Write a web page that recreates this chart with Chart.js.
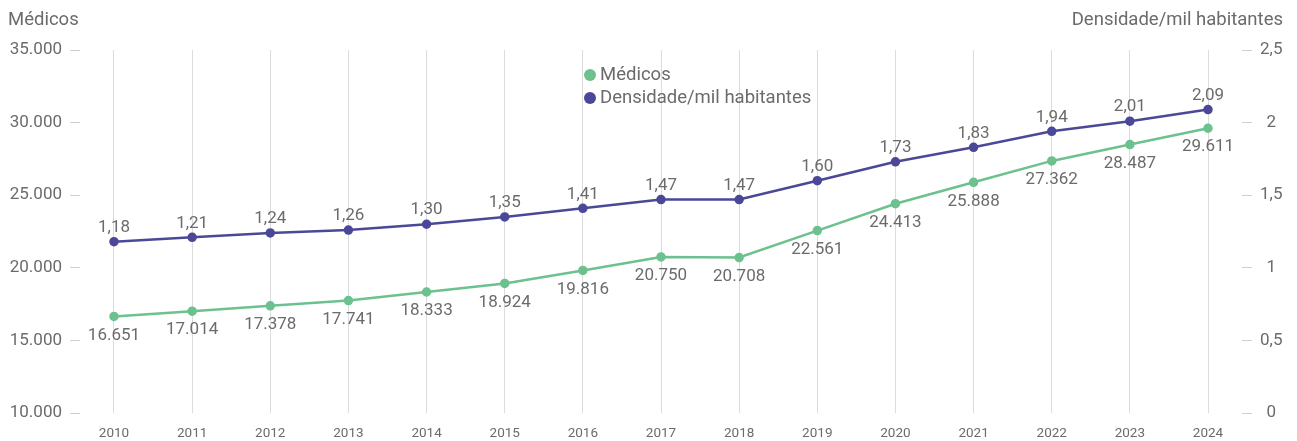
<!DOCTYPE html>
<html>
<head>
<meta charset="utf-8">
<script src="https://cdn.jsdelivr.net/npm/chart.js@4"></script>
<style>
  body { margin: 0; background: #fff; font-family: Roboto, sans-serif; }
  #wrap { position: relative; width: 1297px; height: 441px; }
  .axisTitle { position: absolute; top: 8px; font-size: 18.5px; color: #6b6b6b; }
  #legend { position: absolute; left: 584px; top: 63px; font-size: 18.5px; color: #6b6b6b; line-height: 23px; }
  #legend .dot { display: inline-block; width: 12px; height: 12px; border-radius: 50%; margin-right: 4px; vertical-align: -1px; }
</style>
</head>
<body>
<div id="wrap">
  <canvas id="chart" width="1297" height="441"></canvas>
  <div class="axisTitle" style="left:8px">Médicos</div>
  <div class="axisTitle" style="right:14px">Densidade/mil habitantes</div>
  <div id="legend">
    <div><span class="dot" style="background:#6cc18e"></span>Médicos</div>
    <div><span class="dot" style="background:#4b4898"></span>Densidade/mil habitantes</div>
  </div>
</div>
<script>
// Dados
const anos = [2010, 2011, 2012, 2013, 2014, 2015, 2016, 2017, 2018, 2019, 2020, 2021, 2022, 2023, 2024];
const medicos = [16651, 17014, 17378, 17741, 18333, 18924, 19816, 20750, 20708, 22561, 24413, 25888, 27362, 28487, 29611];
const densidade = [1.18, 1.21, 1.24, 1.26, 1.30, 1.35, 1.41, 1.47, 1.47, 1.60, 1.73, 1.83, 1.94, 2.01, 2.09];

const corVerde = '#6cc18e';
const corRoxa = '#4b4898';
const corTexto = '#6b6b6b';

// formato pt-BR
function fmtMilhar(v) {
    return String(Math.round(v)).replace(/\B(?=(\d{3})+(?!\d))/g, '.');
}
function fmtDecimal(v, casas) {
    return v.toFixed(casas).replace('.', ',');
}

// rótulos dos pontos
const rotulosPlugin = {
    id: 'rotulos',
    afterDatasetsDraw(chart) {
        const ctx = chart.ctx;
        ctx.save();
        ctx.font = '17px Roboto, sans-serif';
        ctx.fillStyle = corTexto;
        ctx.textAlign = 'center';
        ctx.textBaseline = 'middle';
        chart.data.datasets.forEach((ds, i) => {
            const meta = chart.getDatasetMeta(i);
            meta.data.forEach((pt, j) => {
                if (i === 0) {
                    ctx.fillText(fmtMilhar(medicos[j]), pt.x, pt.y + 19);
                } else {
                    ctx.fillText(fmtDecimal(densidade[j], 2), pt.x, pt.y - 14);
                }
            });
        });
        ctx.restore();
    }
};

new Chart(document.getElementById('chart'), {
    type: 'line',
    data: {
        labels: anos,
        datasets: [{
            label: 'Médicos',
            data: anos.map((a, i) => ({ x: a, y: medicos[i] })),
            borderColor: corVerde,
            backgroundColor: corVerde,
            borderWidth: 2.5,
            pointRadius: 3.5,
            yAxisID: 'y'
        }, {
            label: 'Densidade/mil habitantes',
            data: anos.map((a, i) => ({ x: a, y: densidade[i] })),
            borderColor: corRoxa,
            backgroundColor: corRoxa,
            borderWidth: 2.5,
            pointRadius: 3.5,
            yAxisID: 'y1'
        }]
    },
    options: {
        responsive: false,
        animation: false,
        layout: { padding: { top: 50 } },
        plugins: {
            legend: { display: false },
            tooltip: { enabled: false }
        },
        scales: {
            x: {
                type: 'linear',
                min: 2009.565,
                max: 2024.435,
                border: { display: false },
                grid: { color: '#dcdcdc', drawTicks: false },
                ticks: {
                    stepSize: 1,
                    includeBounds: false,
                    padding: 13,
                    color: corTexto,
                    font: { family: 'Roboto', size: 13.5 },
                    callback: v => String(v)
                },
                afterFit(s) { s.height = 28; }
            },
            y: {
                position: 'left',
                min: 10000,
                max: 35000,
                border: { display: false },
                grid: { drawOnChartArea: false, tickLength: 10, color: '#cfcfcf' },
                ticks: {
                    stepSize: 5000,
                    padding: 8,
                    color: corTexto,
                    font: { family: 'Roboto', size: 17 },
                    callback: v => fmtMilhar(v)
                },
                afterFit(s) { s.width = 80; }
            },
            y1: {
                position: 'right',
                min: 0,
                max: 2.5,
                border: { display: false },
                grid: { drawOnChartArea: false, tickLength: 10, color: '#cfcfcf' },
                ticks: {
                    stepSize: 0.5,
                    padding: 8,
                    crossAlign: 'center',
                    color: corTexto,
                    font: { family: 'Roboto', size: 17 },
                    callback: v => (Number.isInteger(v) ? String(v) : fmtDecimal(v, 1))
                },
                afterFit(s) { s.width = 55; }
            }
        }
    },
    plugins: [rotulosPlugin]
});
</script>
</body>
</html>
